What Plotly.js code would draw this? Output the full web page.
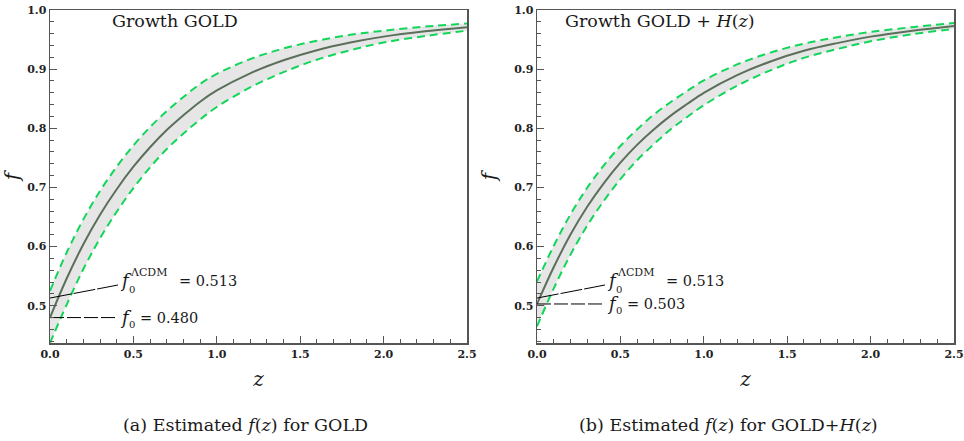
<!DOCTYPE html>
<html>
<head>
<meta charset="utf-8">
<script src="https://cdn.plot.ly/plotly-3.0.1.min.js"></script>
<style>html,body{margin:0;padding:0;background:#fff}#plot{width:964px;height:441px}</style>
</head>
<body>
<div id="plot"></div>
<script>
// ---- data ----
const zGrid = [0, 0.1, 0.2, 0.3, 0.4, 0.5, 0.6, 0.7, 0.8, 0.9, 1.0, 1.2, 1.4, 1.6, 1.8, 2.0, 2.25, 2.5];

const goldCenter = [0.480, 0.546, 0.604, 0.654, 0.697, 0.735, 0.768, 0.797, 0.822, 0.845, 0.864, 0.893, 0.915, 0.932, 0.945, 0.955, 0.964, 0.971];
const goldUpper  = [0.525, 0.590, 0.646, 0.694, 0.735, 0.771, 0.802, 0.829, 0.853, 0.875, 0.892, 0.917, 0.935, 0.948, 0.958, 0.965, 0.972, 0.977];
const goldLower  = [0.437, 0.502, 0.562, 0.614, 0.659, 0.699, 0.734, 0.765, 0.791, 0.815, 0.836, 0.869, 0.895, 0.916, 0.932, 0.945, 0.956, 0.965];

const ghCenter = [0.503, 0.565, 0.620, 0.667, 0.707, 0.742, 0.772, 0.798, 0.821, 0.841, 0.860, 0.890, 0.913, 0.931, 0.944, 0.955, 0.965, 0.973];
const ghUpper  = [0.541, 0.601, 0.654, 0.699, 0.737, 0.770, 0.798, 0.823, 0.844, 0.863, 0.881, 0.908, 0.928, 0.943, 0.954, 0.963, 0.971, 0.978];
const ghLower  = [0.465, 0.529, 0.586, 0.635, 0.677, 0.714, 0.746, 0.773, 0.798, 0.819, 0.839, 0.872, 0.898, 0.919, 0.934, 0.947, 0.959, 0.968];

const fLCDM = 0.513;
const f0Gold = 0.480;
const f0GH = 0.503;

const panelTitles = ["Growth GOLD", "Growth GOLD + <i>H</i>(<i>z</i>)"];
const captions = ["(a) Estimated <i>f</i>(<i>z</i>) for GOLD", "(b) Estimated <i>f</i>(<i>z</i>) for GOLD+<i>H</i>(<i>z</i>)"];
const xTickVals = [0, 0.5, 1.0, 1.5, 2.0, 2.5];
const yTickVals = [0.5, 0.6, 0.7, 0.8, 0.9, 1.0];

// ---- style / layout geometry ----
const GREEN = '#12d65a';
const CENTER = '#5b6f5b';
const BAND = '#e6e6e6';
const FRAME = '#555555';
const TXT = '#1a1a1a';
const SERIF = 'DejaVu Serif';
const W = 964, H = 441;
const TOP = 10, BOTTOM = 343.3;
const Y_MIN = 0.4365, Y_MAX = 1.0;
const PANEL_X0 = [50, 537], PANEL_X1 = [467, 954];

function dx(p, px) { return (px - PANEL_X0[p]) / (PANEL_X1[p] - PANEL_X0[p]) * 2.5; }
function dy(py) { return Y_MAX - (py - TOP) / (BOTTOM - TOP) * (Y_MAX - Y_MIN); }

// pointer label anchor (where the pointer lines end)
const labelZ = dx(0, 118);
const labelLCDMf = dy(285);

function panel(c, up, lo, f0, xa, ya) {
  return [
    {x: zGrid, y: lo, xaxis: xa, yaxis: ya, mode: 'lines', line: {color: GREEN, width: 2, dash: '8px,5px', shape: 'spline'}, hoverinfo: 'skip'},
    {x: zGrid, y: up, xaxis: xa, yaxis: ya, mode: 'lines', fill: 'tonexty', fillcolor: BAND, line: {color: GREEN, width: 2, dash: '8px,5px', shape: 'spline'}, hoverinfo: 'skip'},
    {x: zGrid, y: c, xaxis: xa, yaxis: ya, mode: 'lines', line: {color: CENTER, width: 2, shape: 'spline'}, hoverinfo: 'skip'},
    {x: [0, labelZ], y: [fLCDM, labelLCDMf], xaxis: xa, yaxis: ya, mode: 'lines', line: {color: '#000', width: 1, dash: '22px,2px'}, hoverinfo: 'skip'},
    {x: [0, labelZ], y: [f0, f0], xaxis: xa, yaxis: ya, mode: 'lines', line: {color: '#000', width: 1, dash: '14px,3px'}, hoverinfo: 'skip'}
  ];
}

const data = [].concat(
  panel(goldCenter, goldUpper, goldLower, f0Gold, 'x', 'y'),
  panel(ghCenter, ghUpper, ghLower, f0GH, 'x2', 'y2')
);

const yDom = [1 - BOTTOM / H, 1 - TOP / H];

function xAxis(dom) {
  return {
    domain: dom, range: [0, 2.5], tickvals: xTickVals, tickformat: '.1f',
    ticks: 'inside', ticklen: 7, tickwidth: 1, tickcolor: FRAME,
    minor: {dtick: 0.1, ticks: 'inside', ticklen: 4, tickcolor: FRAME, tickwidth: 1},
    showline: true, linecolor: FRAME, linewidth: 1.5, mirror: true,
    showgrid: false, zeroline: false,
    tickfont: {family: SERIF, size: 11, color: '#222', weight: 'bold'},
    title: {text: '<i>z</i>', font: {family: SERIF, size: 20, color: TXT}, standoff: 12}
  };
}
function yAxis(dom, anchor) {
  return {
    domain: dom, range: [Y_MIN, Y_MAX], tickvals: yTickVals, tickformat: '.1f', anchor: anchor,
    ticks: 'inside', ticklen: 7, tickwidth: 1, tickcolor: FRAME,
    minor: {dtick: 0.02, ticks: 'inside', ticklen: 4, tickcolor: FRAME, tickwidth: 1},
    showline: true, linecolor: FRAME, linewidth: 1.5, mirror: true,
    showgrid: false, zeroline: false,
    tickfont: {family: SERIF, size: 11, color: '#222', weight: 'bold'},
    title: {text: '<i>f</i>', font: {family: SERIF, size: 20, color: TXT}, standoff: 12}
  };
}

function txt(xr, yr, x, y, text, size, anchor) {
  return {xref: xr, yref: yr, x: x, y: y, xanchor: anchor || 'left', yanchor: 'middle', showarrow: false,
          text: text, font: {family: SERIF, size: size, color: TXT}};
}

function labelAnns(p, xr, yr, f0, f0Py) {
  const o = PANEL_X0[p];
  return [
    txt(xr, yr, dx(p, o + 68), dy(280), '<i>f</i>', 18),
    txt(xr, yr, dx(p, o + 78), dy(272), 'ΛCDM', 11),
    txt(xr, yr, dx(p, o + 77), dy(289), '0', 10),
    txt(xr, yr, dx(p, o + 127), dy(281), '= ' + fLCDM.toFixed(3), 14.5),
    txt(xr, yr, dx(p, o + 68), dy(f0Py), '<i>f</i>', 18),
    txt(xr, yr, dx(p, o + 77), dy(f0Py + 7), '0', 10),
    txt(xr, yr, dx(p, o + 88), dy(f0Py + 1), '= ' + f0.toFixed(3), 14.5)
  ];
}

const annotations = [].concat(
  [
    txt('paper', 'paper', 175 / W, 1 - 21 / H, panelTitles[0], 17.5, 'center'),
    txt('paper', 'paper', 660 / W, 1 - 21 / H, panelTitles[1], 17.5, 'center'),
    txt('paper', 'paper', 245 / W, 1 - 425 / H, captions[0], 17.5, 'center'),
    txt('paper', 'paper', 728 / W, 1 - 425 / H, captions[1], 17.5, 'center')
  ],
  labelAnns(0, 'x', 'y', f0Gold, 317),
  labelAnns(1, 'x2', 'y2', f0GH, 303)
);

const layout = {
  width: W, height: H,
  margin: {l: 0, r: 0, t: 0, b: 0},
  paper_bgcolor: '#fff', plot_bgcolor: '#fff',
  showlegend: false,
  xaxis: Object.assign(xAxis([PANEL_X0[0] / W, PANEL_X1[0] / W]), {anchor: 'y'}),
  yaxis: yAxis(yDom, 'x'),
  xaxis2: Object.assign(xAxis([PANEL_X0[1] / W, PANEL_X1[1] / W]), {anchor: 'y2'}),
  yaxis2: yAxis(yDom, 'x2'),
  annotations: annotations
};

Plotly.newPlot('plot', data, layout, {displayModeBar: false, staticPlot: true});
</script>
</body>
</html>
